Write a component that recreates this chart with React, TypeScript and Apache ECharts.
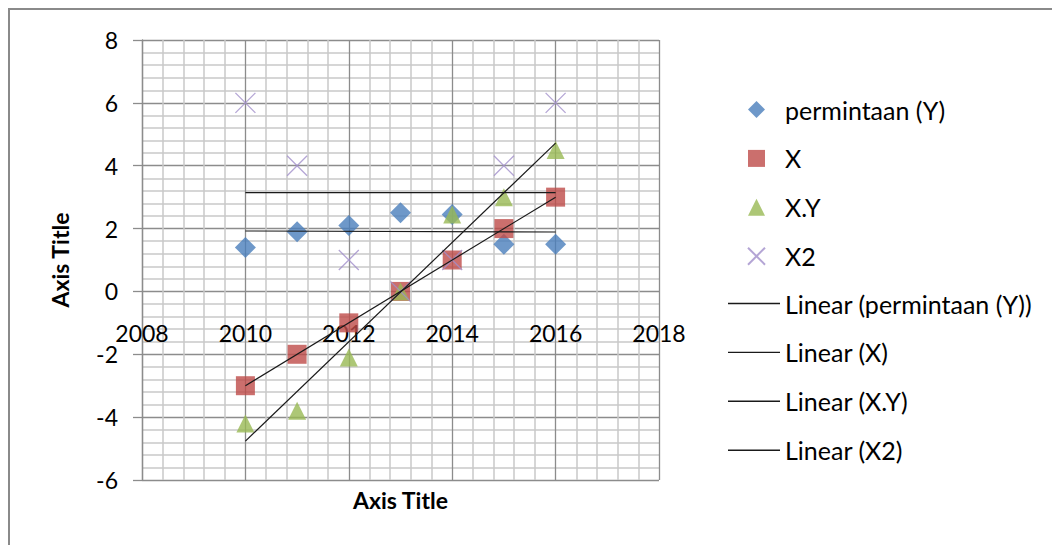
import React, { useEffect, useRef } from "react";
import * as echarts from "echarts";

const years = [2010, 2011, 2012, 2013, 2014, 2015, 2016];
const permintaan = [1.4, 1.9, 2.1, 2.5, 2.45, 1.5, 1.5];
const xVals = [-3, -2, -1, 0, 1, 2, 3];
const xyVals = [-4.2, -3.8, -2.1, 0, 2.45, 3, 4.5];
const x2Vals = [6, 4, 1, 0, 1, 4, 6];

const seriesNames = ["permintaan (Y)", "X", "X.Y", "X2"];
const trendNames = ["Linear (permintaan (Y))", "Linear (X)", "Linear (X.Y)", "Linear (X2)"];

const FONT = "Lato";
const CROSS = "path://M0,0L20,20M20,0L0,20";

function linearFit(xs: number[], ys: number[]) {
  const n = xs.length;
  const mx = xs.reduce((a, b) => a + b, 0) / n;
  const my = ys.reduce((a, b) => a + b, 0) / n;
  let sxy = 0;
  let sxx = 0;
  for (let i = 0; i < n; i++) {
    sxy += (xs[i] - mx) * (ys[i] - my);
    sxx += (xs[i] - mx) * (xs[i] - mx);
  }
  const b = sxy / sxx;
  const a = my - b * mx;
  const x0 = xs[0];
  const x1 = xs[n - 1];
  return [
    [x0, a + b * x0],
    [x1, a + b * x1],
  ];
}

export default function App() {
  const ref = useRef<HTMLDivElement>(null);
  useEffect(() => {
    document.body.style.margin = "0";
    const chart = echarts.init(ref.current!, null, { renderer: "svg" });
    const pts = (vals: number[]) => years.map((y, i) => [y, vals[i]]);
    const allVals = [permintaan, xVals, xyVals, x2Vals];
    const scatterStyles = [
      { symbol: "diamond", size: 21, itemStyle: { color: "#4a7ebb" } },
      { symbol: "rect", size: 19, itemStyle: { color: "#be4b48" } },
      { symbol: "triangle", size: 18, itemStyle: { color: "#98b954" } },
      {
        symbol: CROSS,
        size: 20,
        itemStyle: { color: "none", borderColor: "#a18fcb", borderWidth: 1.3 },
      },
    ];
    const series: any[] = [];
    allVals.forEach((vals, k) => {
      series.push({
        name: seriesNames[k],
        type: "scatter",
        data: pts(vals),
        symbol: scatterStyles[k].symbol,
        symbolSize: scatterStyles[k].size,
        itemStyle: scatterStyles[k].itemStyle,
        z: 3,
      });
    });
    allVals.forEach((vals, k) => {
      series.push({
        name: trendNames[k],
        type: "line",
        data: linearFit(years, vals),
        symbol: "none",
        lineStyle: { color: "#1a1a1a", width: 1.2 },
        itemStyle: { color: "#1a1a1a" },
        z: 4,
      });
    });

    const legendText = { fontFamily: FONT, fontSize: 25, color: "#000", lineHeight: 24 };
    const gridTop = 40;
    const gridBottom = 480;
    const zeroY = gridTop + ((gridBottom - gridTop) * 8) / 14;

    chart.setOption({
      animation: false,
      backgroundColor: "#ffffff",
      textStyle: { fontFamily: FONT },
      grid: {
        left: 142,
        top: gridTop,
        right: 393,
        bottom: 545 - gridBottom,
        outerBoundsMode: "none",
        containLabel: false,
      },
      xAxis: {
        type: "value",
        min: 2008,
        max: 2018,
        interval: 2,
        position: "bottom",
        offset: -(gridBottom - zeroY),
        name: "Axis Title",
        nameLocation: "middle",
        nameGap: 196.6,
        nameMoveOverlap: false,
        nameTextStyle: { fontFamily: FONT, fontSize: 23, fontWeight: "bold", color: "#000" },
        axisLine: { show: false, onZero: false },
        axisTick: { show: false },
        axisLabel: {
          color: "#000",
          fontSize: 23,
          fontFamily: FONT,
          margin: 30,
          formatter: (v: number) => String(v),
        },
        splitLine: { show: true, lineStyle: { color: "#8c8c8c", width: 1.3 } },
        minorTick: { show: false, splitNumber: 5 },
        minorSplitLine: { show: true, lineStyle: { color: "#c8c8c8", width: 1.5 } },
      },
      yAxis: {
        type: "value",
        min: -6,
        max: 8,
        interval: 2,
        name: "Axis Title",
        nameLocation: "middle",
        nameGap: 71,
        nameRotate: 90,
        nameMoveOverlap: false,
        nameTextStyle: { fontFamily: FONT, fontSize: 23, fontWeight: "bold", color: "#000" },
        axisLine: { show: true, onZero: false, lineStyle: { color: "#8c8c8c", width: 1.3 } },
        axisTick: { show: true, length: 9, lineStyle: { color: "#8c8c8c", width: 1.3 } },
        axisLabel: { color: "#000", fontSize: 23, fontFamily: FONT, margin: 24 },
        splitLine: { show: true, lineStyle: { color: "#8c8c8c", width: 1.3 } },
        minorTick: { show: false, splitNumber: 5 },
        minorSplitLine: { show: true, lineStyle: { color: "#c8c8c8", width: 1.5 } },
      },
      legend: [
        {
          orient: "vertical",
          left: 745.5,
          top: 97,
          padding: 0,
          itemWidth: 17,
          itemHeight: 17,
          itemGap: 23.9,
          textStyle: { ...legendText, padding: [0, 0, 0, 15] },
          data: seriesNames,
        },
        {
          orient: "vertical",
          left: 728,
          top: 291,
          padding: 0,
          itemWidth: 52,
          itemHeight: 1.4,
          itemGap: 23.9,
          icon: "rect",
          itemStyle: { color: "#1a1a1a" },
          textStyle: { ...legendText, padding: [0, 0, 0, 0] },
          data: trendNames,
        },
      ],
      graphic: [
        {
          type: "rect",
          shape: { x: 9, y: 9, width: 1200, height: 700 },
          style: { fill: "none", stroke: "#8a8a8a", lineWidth: 2 },
          silent: true,
        },
      ],
      series,
    });
    return () => chart.dispose();
  }, []);
  return <div ref={ref} style={{ width: 1052, height: 545 }} />;
}
